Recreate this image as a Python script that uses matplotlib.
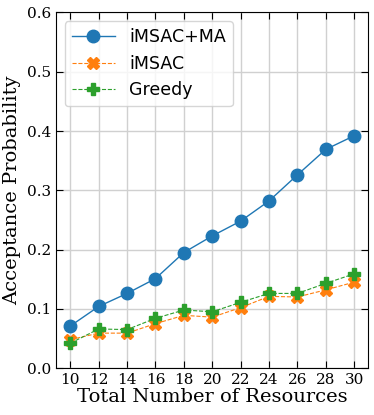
import numpy as np
import matplotlib.pyplot as plt

x = [10, 12, 14, 16, 18, 20, 22, 24, 26, 28, 30]
msac_ma = [0.071, 0.104, 0.126, 0.151, 0.195, 0.223, 0.248, 0.282, 0.326, 0.369, 0.392]
msac = [0.048, 0.059, 0.059, 0.075, 0.089, 0.086, 0.102, 0.121, 0.120, 0.132, 0.145]
greedy = [0.042, 0.066, 0.065, 0.084, 0.098, 0.095, 0.111, 0.126, 0.126, 0.143, 0.159]

fig, ax = plt.subplots(figsize=(3.74, 4.15), dpi=100)
fig.subplots_adjust(left=0.15, right=0.985, top=0.97, bottom=0.113)

ax.plot(x, msac_ma, '-o', color='tab:blue', lw=1, ms=9, label='iMSAC+MA')
ax.plot(x, msac, '--X', color='tab:orange', lw=0.8, ms=9, label='iMSAC')
ax.plot(x, greedy, '--P', color='tab:green', lw=0.8, ms=9, label='Greedy')

ax.set_xlim(9, 31)
ax.set_ylim(0, 0.6)
ax.set_xticks(x)
ax.set_yticks(np.arange(0, 0.61, 0.1))
ax.set_yticklabels(['%.1f' % v for v in np.arange(0, 0.61, 0.1)], family='DejaVu Serif')
ax.set_xticklabels([str(v) for v in x], family='DejaVu Serif')
ax.tick_params(direction='in', top=True, right=True, labelsize=11, length=5)
ax.grid(True, color='#d0d0d0', lw=1)
ax.set_xlabel('Total Number of Resources', family='DejaVu Serif', fontsize=14, labelpad=1)
ax.set_ylabel('Acceptance Probability', family='DejaVu Serif', fontsize=14, labelpad=4)
ax.legend(loc='upper left', fontsize=12.5, handlelength=2.5)

fig.savefig('out.png')
